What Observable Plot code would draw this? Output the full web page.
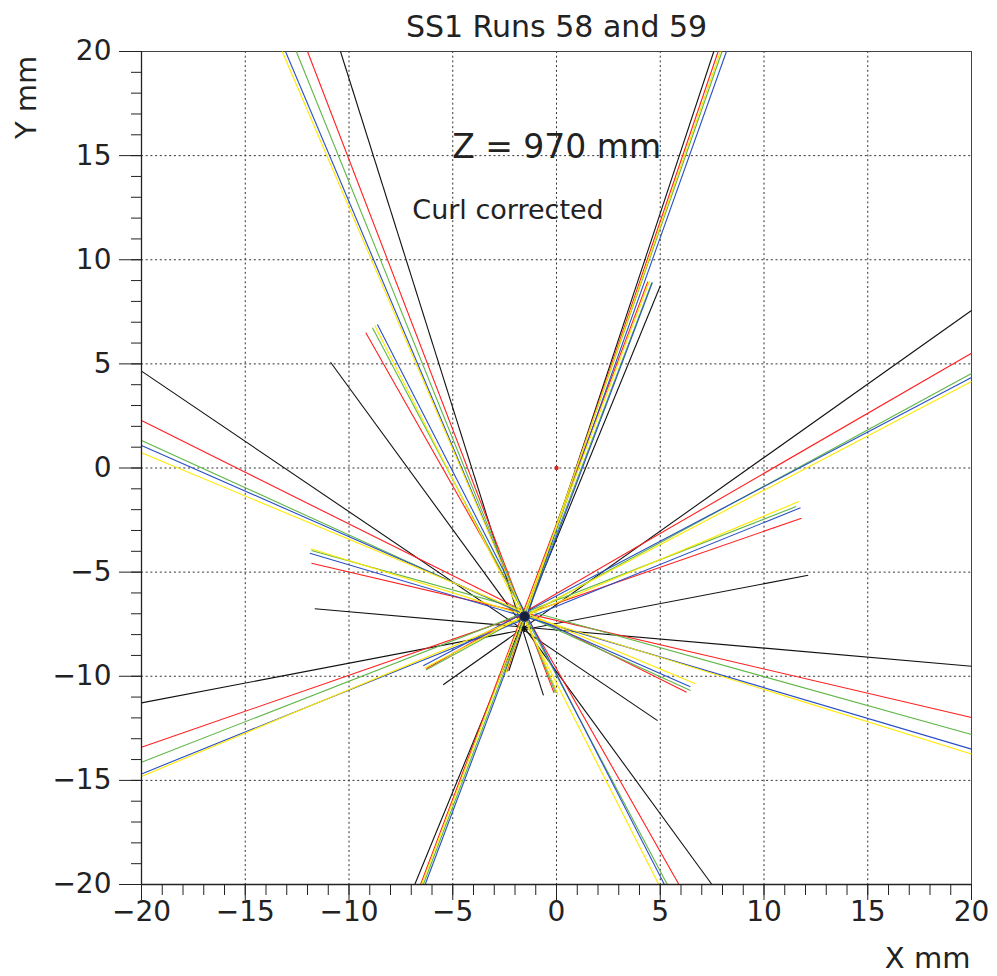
<!DOCTYPE html>
<html>
<head>
<meta charset="utf-8">
<script src="https://cdn.jsdelivr.net/npm/d3@7"></script>
<script src="https://cdn.jsdelivr.net/npm/@observablehq/plot@0.6"></script>
<style>
  html, body { margin: 0; padding: 0; background: #ffffff; }
  #chart svg { display: block; }
</style>
</head>
<body>
<div id="chart"></div>
<script>
// ---- data (mm) ----
const titleText = "SS1 Runs 58 and 59";
const zLabel = "Z = 970 mm";
const curlLabel = "Curl corrected";
const xLabel = "X mm";
const yLabel = "Y mm";

const majorTicks = [-20, -15, -10, -5, 0, 5, 10, 15, 20];
const minorTicks = d3.range(-20, 21, 1);
const gridTicks = [-15, -10, -5, 0, 5, 10, 15];

const seriesKeys = ["K", "R", "G", "B", "Y"];
const seriesColors = ["#111111", "#ff1f1f", "#5fb646", "#2a4fc4", "#ffe800"];

// each track segment: [x1, y1, x2, y2]
const blackTracks = [
  [-10.41, 20, -0.63, -10.92],
  [-10.89, 5.08, 7.49, -20],
  [7.58, 20, -2.3, -9.75],
  [-6.83, -20, 5.01, 8.76],
  [20, 7.56, -5.46, -10.41],
  [-20, -11.28, 12.13, -5.15],
  [-20, 4.65, 4.87, -12.13],
  [20, -9.52, -11.65, -6.76]
];
const redTracks = [
  [-12.0, 20, -0.12, -10.8],
  [-9.19, 6.49, 5.9, -20],
  [7.79, 20, -2.4, -9.8],
  [-6.55, -20, 4.40, 8.95],
  [20, 5.51, -6.27, -9.64],
  [-20, -13.41, 11.81, -2.41],
  [-20, 2.28, 6.27, -10.77],
  [20, -11.98, -11.81, -4.57]
];
const greenTracks = [
  [-12.54, 20, -0.05, -10.8],
  [-8.87, 6.73, 5.34, -20],
  [7.98, 20, -2.5, -9.85],
  [-6.42, -20, 4.6, 8.92],
  [20, 4.54, -6.3, -9.7],
  [-20, -14.13, 11.55, -1.85],
  [-20, 1.32, 6.46, -10.68],
  [20, -12.8, -11.81, -3.96]
];
const blueTracks = [
  [-13.06, 20, 0.02, -10.8],
  [-8.63, 6.89, 5.2, -20],
  [8.19, 20, -2.45, -9.8],
  [-6.33, -20, 4.62, 8.9],
  [20, 4.35, -6.42, -9.5],
  [-20, -14.69, 11.76, -1.91],
  [-20, 1.08, 6.45, -10.5],
  [20, -13.5, -11.89, -4.09]
];
const yellowTracks = [
  [-13.22, 20, 0.08, -10.9],
  [-8.76, 6.84, 4.93, -20],
  [7.90, 20, -2.45, -9.85],
  [-6.5, -20, 4.48, 8.98],
  [20, 4.15, -6.35, -9.6],
  [-20, -14.81, 11.68, -1.61],
  [-20, 0.73, 6.7, -10.36],
  [20, -13.73, -11.84, -3.88]
];

const vertexPoint = [[-1.54, -7.13]];
const fitPoint = [[-1.54, -7.72]];
const originPoint = [[0, 0]];

// ---- build table ----
const seriesList = [blackTracks, redTracks, greenTracks, blueTracks, yellowTracks];
const tracks = seriesKeys.flatMap((k, i) =>
  seriesList[i].map(([x1, y1, x2, y2]) => ({series: k, x1, y1, x2, y2}))
);
const fmt = d => (d < 0 ? "\u2212" + Math.abs(d) : String(d));
const FONT = "'DejaVu Sans', sans-serif";

const chart = Plot.plot({
  width: 997,
  height: 976,
  marginLeft: 141,
  marginRight: 26,
  marginTop: 51,
  marginBottom: 92,
  style: {fontFamily: FONT, fontSize: "28px", background: "#ffffff", color: "#222"},
  x: {domain: [-20, 20]},
  y: {domain: [-20, 20]},
  color: {domain: seriesKeys, range: seriesColors},
  marks: [
    Plot.gridX({ticks: gridTicks, stroke: "#333", strokeOpacity: 1, strokeWidth: 1, strokeDasharray: "2,2.7"}),
    Plot.gridY({ticks: gridTicks, stroke: "#333", strokeOpacity: 1, strokeWidth: 1, strokeDasharray: "2,2.7"}),
    Plot.ruleX([20], {stroke: "#444", strokeWidth: 1}),
    Plot.ruleY([20], {stroke: "#444", strokeWidth: 1}),
    Plot.link(tracks, {x1: "x1", y1: "y1", x2: "x2", y2: "y2", stroke: "series", strokeWidth: 1.1}),
    Plot.dot(vertexPoint, {x: d => d[0], y: d => d[1], r: 5, fill: "#15203d", stroke: "#2a3f8a", strokeWidth: 1}),
    Plot.dot(fitPoint, {x: d => d[0], y: d => d[1], r: 3, symbol: "asterisk", stroke: "#111", strokeWidth: 1.2}),
    Plot.dot(originPoint, {x: d => d[0], y: d => d[1], r: 2.2, fill: "#e0201a", stroke: "none"}),
    Plot.ruleX([-20], {stroke: "#222", strokeWidth: 1.3}),
    Plot.ruleY([-20], {stroke: "#222", strokeWidth: 1.3}),
    Plot.axisX({ticks: majorTicks, tickSize: 16, tickPadding: 1, tickFormat: fmt, fontSize: 28, label: null, stroke: "#222"}),
    Plot.axisX({ticks: minorTicks, tickSize: 11, tickFormat: () => "", label: null, stroke: "#222"}),
    Plot.axisY({ticks: majorTicks, tickSize: 22, tickPadding: 8, tickFormat: fmt, fontSize: 28, label: null, stroke: "#222"}),
    Plot.axisY({ticks: minorTicks, tickSize: 10, tickFormat: () => "", label: null, stroke: "#222"}),
    Plot.text([titleText], {frameAnchor: "top", dy: -15, lineAnchor: "bottom", fontSize: 30, fill: "#222"}),
    Plot.text([zLabel], {x: -5.03, y: 14.9, textAnchor: "start", lineAnchor: "bottom", fontSize: 33, fill: "#222"}),
    Plot.text([curlLabel], {x: -6.95, y: 11.98, textAnchor: "start", lineAnchor: "bottom", fontSize: 27, fill: "#222"}),
    Plot.text([xLabel], {x: 19.95, y: -24.0, textAnchor: "end", lineAnchor: "bottom", fontSize: 29, fill: "#222"}),
    Plot.text([yLabel], {x: -25.1, y: 19.8, textAnchor: "end", lineAnchor: "bottom", rotate: -90, fontSize: 29, fill: "#222"})
  ]
});
document.getElementById("chart").appendChild(chart);
</script>
</body>
</html>
